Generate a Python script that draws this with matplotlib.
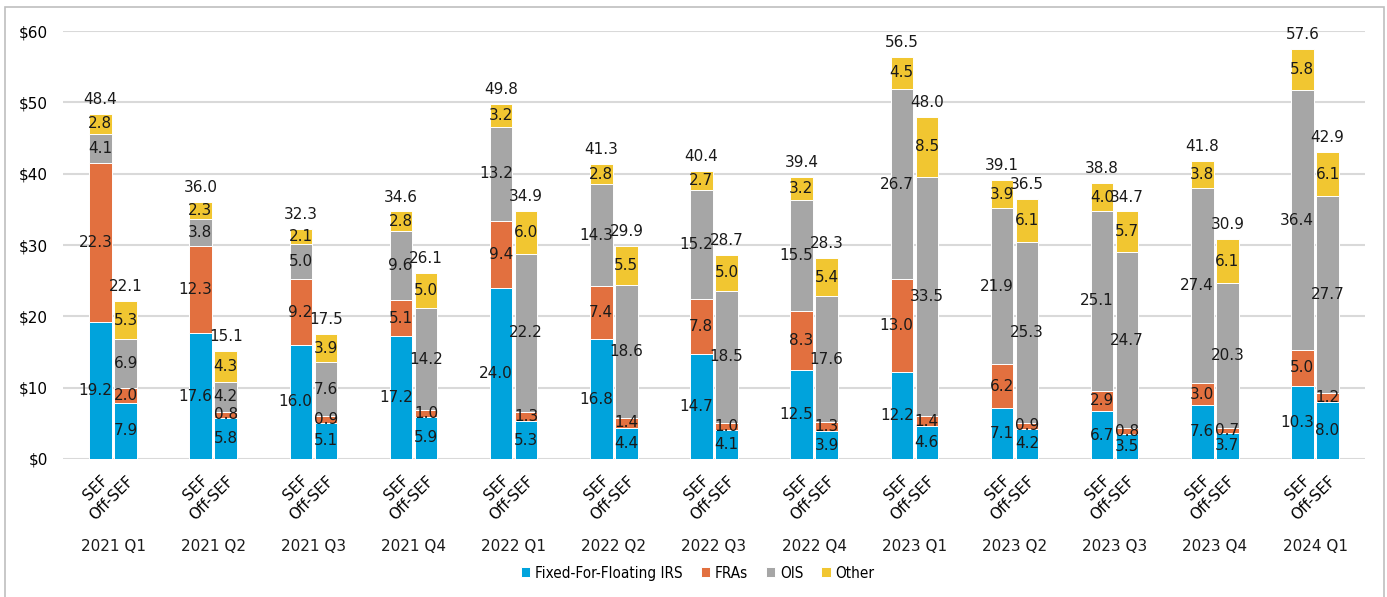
import matplotlib
matplotlib.use("Agg")
import matplotlib.pyplot as plt
import numpy as np
from matplotlib import font_manager
from matplotlib.patches import Rectangle

quarters = ["2021 Q1", "2021 Q2", "2021 Q3", "2021 Q4", "2022 Q1", "2022 Q2", "2022 Q3",
            "2022 Q4", "2023 Q1", "2023 Q2", "2023 Q3", "2023 Q4", "2024 Q1"]
products = ["Fixed-For-Floating IRS", "FRAs", "OIS", "Other"]
colors = ["#00A3DC", "#E2703F", "#A6A6A6", "#F1C631"]

# SEF volumes ($ trillions) per product
sef_irs = [19.2, 17.6, 16.0, 17.2, 24.0, 16.8, 14.7, 12.5, 12.2, 7.1, 6.7, 7.6, 10.3]
sef_fra = [22.3, 12.3, 9.2, 5.1, 9.4, 7.4, 7.8, 8.3, 13.0, 6.2, 2.9, 3.0, 5.0]
sef_ois = [4.1, 3.8, 5.0, 9.6, 13.2, 14.3, 15.2, 15.5, 26.7, 21.9, 25.1, 27.4, 36.4]
sef_other = [2.8, 2.3, 2.1, 2.8, 3.2, 2.8, 2.7, 3.2, 4.5, 3.9, 4.0, 3.8, 5.8]
sef_total = [48.4, 36.0, 32.3, 34.6, 49.8, 41.3, 40.4, 39.4, 56.5, 39.1, 38.8, 41.8, 57.6]

# Off-SEF volumes
off_irs = [7.9, 5.8, 5.1, 5.9, 5.3, 4.4, 4.1, 3.9, 4.6, 4.2, 3.5, 3.7, 8.0]
off_fra = [2.0, 0.8, 0.9, 1.0, 1.3, 1.4, 1.0, 1.3, 1.4, 0.9, 0.8, 0.7, 1.2]
off_ois = [6.9, 4.2, 7.6, 14.2, 22.2, 18.6, 18.5, 17.6, 33.5, 25.3, 24.7, 20.3, 27.7]
off_other = [5.3, 4.3, 3.9, 5.0, 6.0, 5.5, 5.0, 5.4, 8.5, 6.1, 5.7, 6.1, 6.1]
off_total = [22.1, 15.1, 17.5, 26.1, 34.9, 29.9, 28.7, 28.3, 48.0, 36.5, 34.7, 30.9, 42.9]

# a narrow face for the legend if one is around
names = {f.name for f in font_manager.fontManager.ttflist}
if "Liberation Sans Narrow" in names:
    leg_prop = {"family": "Liberation Sans Narrow", "size": 12}
else:
    leg_prop = {"family": "DejaVu Sans", "stretch": "condensed", "size": 11}

fig = plt.figure(figsize=(13.87, 5.97), dpi=100)
ax = fig.add_axes([0.0454, 0.2312, 0.9388, 0.7168])

x = np.arange(len(quarters))
w = 0.225
off = 0.125

groups = [(x - off, [sef_irs, sef_fra, sef_ois, sef_other], sef_total, True),
          (x + off, [off_irs, off_fra, off_ois, off_other], off_total, False)]
for xpos, stacks, total, is_sef in groups:
    bottom = np.zeros(len(quarters))
    for vals, c, lab in zip(stacks, colors, products):
        vals = np.array(vals)
        ax.bar(xpos, vals, w, bottom=bottom, color=c, edgecolor="white",
               linewidth=0.7, label=lab if is_sef else None, zorder=3)
        for xi, b, v in zip(xpos, bottom, vals):
            # SEF labels hug the right edge of the bar, Off-SEF ones sit centred
            if is_sef:
                ax.text(xi + w / 2 + 0.005, b + v / 2, f"{v:.1f}", ha="right", va="center",
                        fontsize=11, color="#1a1a1a", zorder=4)
            else:
                ax.text(xi, b + v / 2, f"{v:.1f}", ha="center", va="center",
                        fontsize=11, color="#1a1a1a", zorder=4)
        bottom += vals
    for xi, b, t in zip(xpos, bottom, total):
        ax.annotate(f"{t:.1f}", (xi, b), xytext=(0, 5), textcoords="offset points",
                    ha="center", va="bottom", fontsize=11, color="#1a1a1a")

ax.set_xlim(-0.5, 12.5)
ax.set_ylim(0, 60)
ax.set_yticks(range(0, 61, 10))
ax.set_yticklabels([f"${v}" for v in range(0, 61, 10)], fontsize=11)
ax.yaxis.grid(True, color="#D9D9D9", linewidth=1.5, zorder=0)
ax.tick_params(axis="y", length=0, pad=11)
ax.tick_params(axis="x", length=0, pad=10)
for s in ax.spines.values():
    s.set_visible(False)

ticks = np.concatenate([x - off, x + off])
ax.set_xticks(ticks)
ax.set_xticklabels(["SEF"] * len(x) + ["Off-SEF"] * len(x), rotation=45, ha="right",
                   rotation_mode="anchor", fontsize=11)

for xi, q in zip(x, quarters):
    ax.text(xi, -0.205, q, transform=ax.get_xaxis_transform(), ha="center",
            va="center", fontsize=11, color="#1a1a1a")

handles, labels = ax.get_legend_handles_labels()
fig.legend(handles, labels, loc="center", bbox_to_anchor=(0.503, 0.04),
           ncol=4, frameon=False, handlelength=0.6, handleheight=0.6,
           handletextpad=0.3, columnspacing=1.2, prop=leg_prop)

# light frame around the whole figure
fig.patches.append(Rectangle((5 / 1387, -0.02), 1379 / 1387, 1.02 - 7 / 597,
                             transform=fig.transFigure, fill=False,
                             edgecolor="#BFBFBF", linewidth=1.2))

fig.savefig("out.png", dpi=100)
